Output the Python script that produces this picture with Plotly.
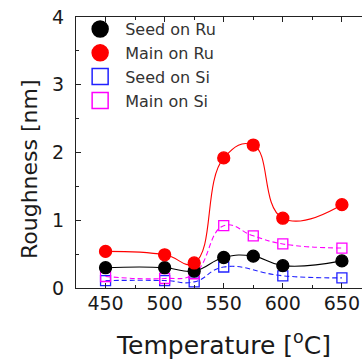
import plotly.graph_objects as go

temps = [450, 500, 525, 550, 575, 600, 650]
seed_ru = [0.30, 0.30, 0.25, 0.45, 0.47, 0.33, 0.40]
main_ru = [0.54, 0.49, 0.37, 1.92, 2.11, 1.03, 1.23]
temps_seed_si = [450, 500, 525, 550, 600, 650]
seed_si = [0.11, 0.11, 0.09, 0.31, 0.18, 0.15]
main_si = [0.17, 0.14, 0.21, 0.92, 0.77, 0.65, 0.59]

names = ["Seed on Ru", "Main on Ru", "Seed on Si", "Main on Si"]
FONT = "DejaVu Sans"
TXT = "#1a1a1a"

fig = go.Figure()

series = [
    (temps_seed_si, seed_si, "#2020ff", "square-open", "5px,3px", 10),
    (temps, main_si, "#ff00ff", "square-open", "5px,3px", 10),
    (temps, seed_ru, "#000000", "circle", "solid", 12),
    (temps, main_ru, "#ff0000", "circle", "solid", 12),
]
for xs, ys, col, sym, dash, sz in series:
    fig.add_trace(go.Scatter(
        x=xs, y=ys, mode="lines+markers", showlegend=False,
        line=dict(color=col, width=1.1, dash=dash, shape="spline", smoothing=1.3),
        marker=dict(color=col, symbol=sym, size=sz, line=dict(color=col, width=1.3)),
        cliponaxis=False,
    ))

leg = [
    ("#000000", "circle"),
    ("#ff0000", "circle"),
    ("#2020ff", "square-open"),
    ("#ff00ff", "square-open"),
]
for nm, (col, sym) in zip(names, leg):
    fig.add_trace(go.Scatter(
        x=[None], y=[None], mode="markers", name=nm,
        marker=dict(color=col, symbol=sym, size=18, line=dict(color=col, width=1.5)),
    ))

axis_common = dict(
    showline=True, linecolor="#222", linewidth=1.3,
    ticks="inside", ticklen=5, tickwidth=1.2, tickcolor="#222",
    tickfont=dict(family=FONT, size=19, color=TXT),
    showgrid=False, zeroline=False,
)
fig.update_xaxes(
    range=[425, 667], tickvals=[450, 500, 550, 600, 650], mirror="ticks",
    minor=dict(dtick=25, tick0=450, ticks="inside", ticklen=3, tickcolor="#222"),
    ticklabelstandoff=-2, **axis_common,
)
fig.update_yaxes(
    range=[0, 4], dtick=1, tick0=0,
    minor=dict(dtick=0.5, tick0=0, ticks="inside", ticklen=3, tickcolor="#222"),
    ticklabelstandoff=7, **axis_common,
)

fig.add_annotation(text="Temperature [<sup>o</sup>C]", xref="paper", yref="paper",
                   x=(223 - 76) / 286, y=(288 - 343) / 271, showarrow=False,
                   xanchor="center", yanchor="middle",
                   font=dict(family=FONT, size=25, color=TXT))
fig.add_annotation(text="Roughness [nm]", xref="paper", yref="paper",
                   x=(29 - 76) / 286, y=(288 - 169) / 271, showarrow=False,
                   textangle=-90, xanchor="center", yanchor="middle",
                   font=dict(family=FONT, size=22, color=TXT))

fig.update_layout(
    width=362, height=359,
    margin=dict(l=76, r=0, t=17, b=71),
    paper_bgcolor="white", plot_bgcolor="white",
    legend=dict(x=-0.003, y=1.018, xanchor="left", yanchor="top",
                bgcolor="rgba(0,0,0,0)", itemwidth=40,
                font=dict(family=FONT, size=16, color="#333")),
)

fig.write_html("out.html", config={"displayModeBar": False},
               post_script="document.body.style.margin='0';document.body.style.overflow='hidden';")
